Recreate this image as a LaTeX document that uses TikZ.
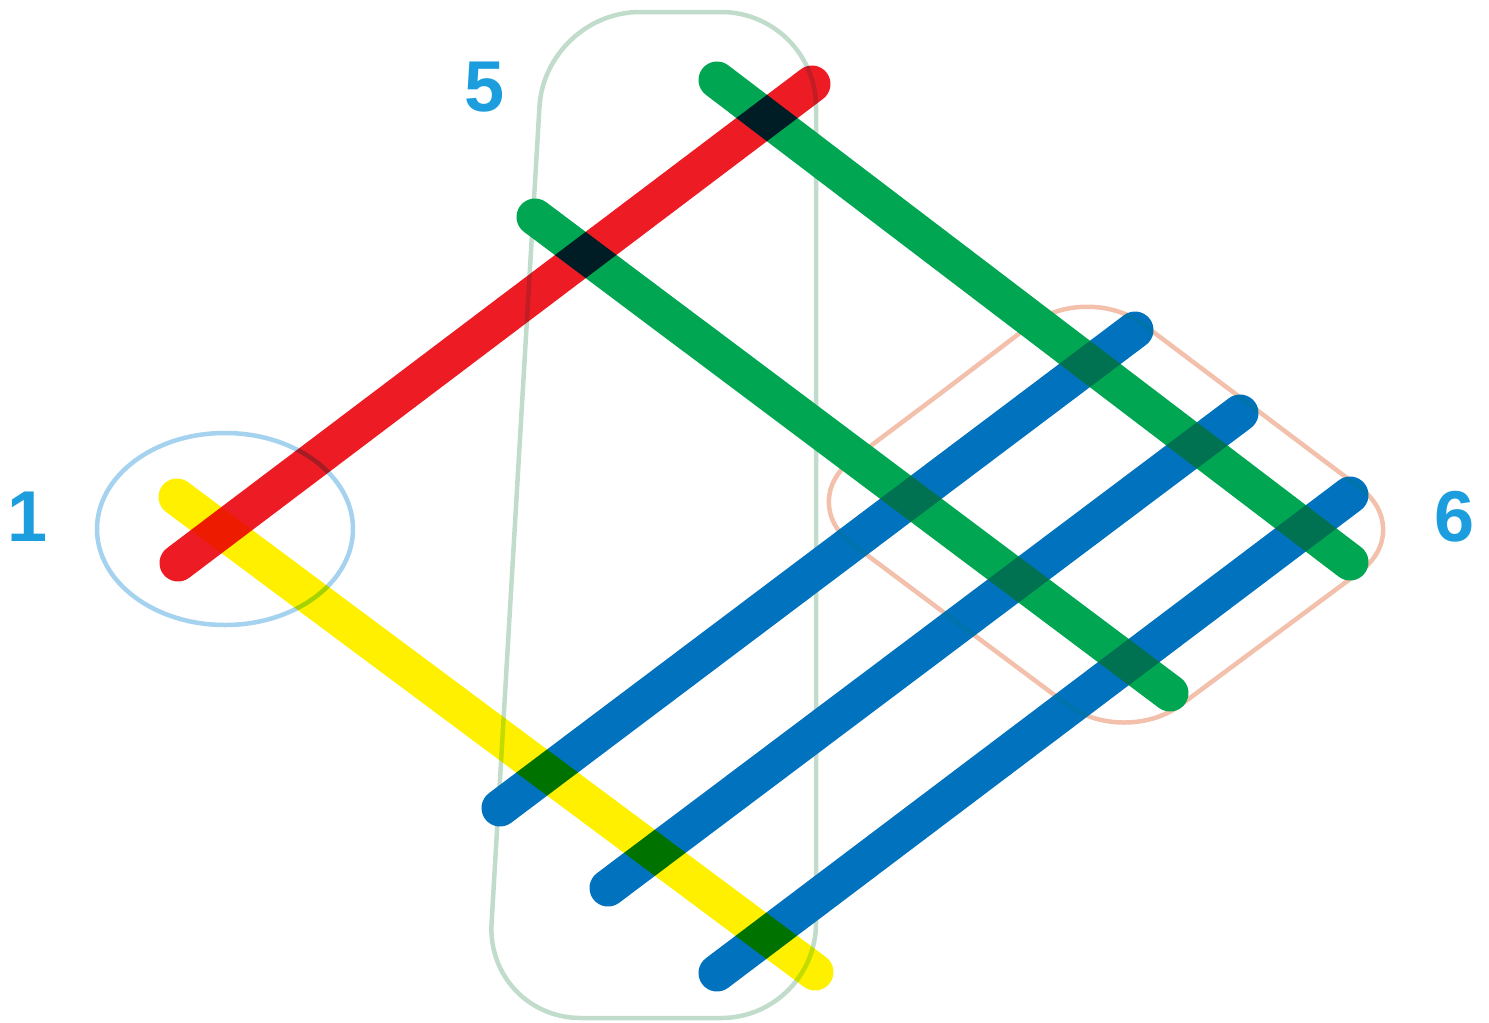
\documentclass[tikz,border=0pt]{standalone}
\usepackage{fontspec}
\setmainfont{Liberation Sans}
\usepackage{xcolor}
\usepackage{tikz}
\definecolor{barred}{RGB}{237,28,36}
\definecolor{baryellow}{RGB}{255,240,0}
\definecolor{bargreen}{RGB}{0,166,81}
\definecolor{barblue}{RGB}{0,114,190}
\definecolor{ringblue}{RGB}{165,210,238}
\definecolor{ringgreen}{RGB}{194,220,204}
\definecolor{ringsalmon}{RGB}{243,192,172}
\definecolor{numcyan}{RGB}{28,158,222}
\tikzset{
  bar/.style={line width=37pt,line cap=round},
  ring/.style={line width=4.5pt},
  num/.style={text=numcyan,font=\fontsize{72}{80}\selectfont\bfseries,inner sep=0pt},
}

\begin{document}
\begin{tikzpicture}[x=1pt,y=-1pt]
  \useasboundingbox (0,0) rectangle (1489,1023);

  \coordinate (r1) at (178,563);  \coordinate (r2) at (812,84);
  \coordinate (y1) at (177,497);  \coordinate (y2) at (815,972);
  \coordinate (g1) at (535,217);  \coordinate (g2) at (1170,693);
  \coordinate (h1) at (717,80);   \coordinate (h2) at (1350,562);
  \coordinate (b1) at (500,808);  \coordinate (b2) at (1135,330);
  \coordinate (c1) at (608,888);  \coordinate (c2) at (1240,413);
  \coordinate (d1) at (717,973);  \coordinate (d2) at (1350,495);

  \begin{scope}[blend group=darken]
    \draw[ring,ringblue] (225,529) ellipse [x radius=128,y radius=96];
    \draw[ring,ringgreen,rounded corners=95pt]
      (680,12) -- (816,12) -- (816,1018) -- (486,1018) -- (545,12) -- (680,12);
    \draw[ring,ringsalmon,rounded corners=70pt]
      (941,393) -- (1087,282) -- (1416,530) -- (1124,747) -- (796,502) -- (941,393);

    \draw[bar,barred]    (r1) -- (r2);
    \draw[bar,baryellow] (y1) -- (y2);
    \draw[bar,bargreen]  (g1) -- (g2);
    \draw[bar,bargreen]  (h1) -- (h2);
    \draw[bar,barblue]   (b1) -- (b2);
    \draw[bar,barblue]   (c1) -- (c2);
    \draw[bar,barblue]   (d1) -- (d2);
  \end{scope}

  \node[num] (n1) at (28,517)   {1};
  \node[num] (n5) at (485,87)   {5};
  \node[num] (n6) at (1455,517) {6};
\end{tikzpicture}
\end{document}
